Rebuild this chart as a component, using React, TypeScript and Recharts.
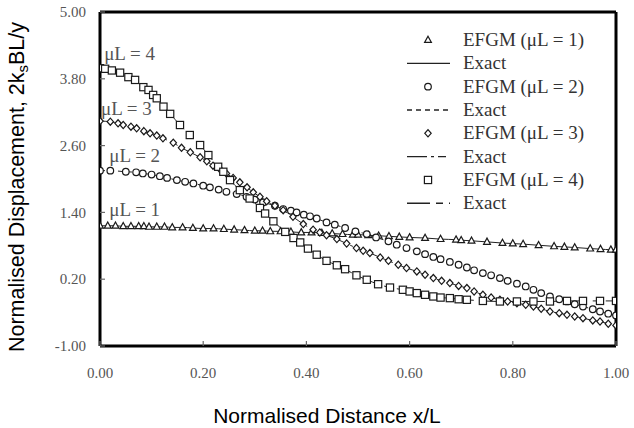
import React from 'react';
import { ComposedChart, Line, XAxis, YAxis, ReferenceDot, ReferenceLine, Legend } from 'recharts';

const xTicks = [0, 0.2, 0.4, 0.6, 0.8, 1.0];
const yTicks = [-1, 0.2, 1.4, 2.6, 3.8, 5.0];

const mu1X = [0, 0.015, 0.03, 0.045, 0.06, 0.075, 0.085, 0.095, 0.11, 0.125, 0.14, 0.16, 0.18, 0.2, 0.22, 0.24, 0.26, 0.28, 0.3, 0.315, 0.33, 0.35, 0.37, 0.39, 0.41, 0.43, 0.45, 0.47, 0.49, 0.5, 0.52, 0.54, 0.56, 0.58, 0.6, 0.63, 0.66, 0.69, 0.7, 0.72, 0.75, 0.78, 0.8, 0.82, 0.85, 0.88, 0.9, 0.92, 0.95, 0.97, 0.99, 1.0];
const mu1Y = [1.16, 1.16, 1.16, 1.15, 1.15, 1.15, 1.15, 1.14, 1.14, 1.14, 1.13, 1.13, 1.12, 1.11, 1.11, 1.1, 1.09, 1.08, 1.07, 1.07, 1.06, 1.06, 1.05, 1.04, 1.04, 1.03, 1.02, 1.01, 1.0, 1.0, 0.99, 0.98, 0.97, 0.96, 0.95, 0.94, 0.92, 0.91, 0.9, 0.89, 0.87, 0.85, 0.84, 0.83, 0.81, 0.79, 0.78, 0.77, 0.75, 0.74, 0.73, 0.73];

const mu2X = [0, 0.02, 0.05, 0.07, 0.083, 0.1, 0.116, 0.13, 0.149, 0.165, 0.181, 0.2, 0.213, 0.23, 0.245, 0.265, 0.284, 0.3, 0.316, 0.339, 0.355, 0.37, 0.381, 0.395, 0.407, 0.42, 0.439, 0.455, 0.475, 0.495, 0.517, 0.535, 0.559, 0.575, 0.594, 0.614, 0.63, 0.646, 0.66, 0.678, 0.695, 0.711, 0.725, 0.742, 0.758, 0.775, 0.79, 0.808, 0.825, 0.84, 0.855, 0.872, 0.89, 0.905, 0.92, 0.936, 0.955, 0.969, 0.985, 1.0];
const mu2Y = [2.15, 2.15, 2.13, 2.12, 2.1, 2.08, 2.05, 2.02, 1.98, 1.95, 1.92, 1.88, 1.85, 1.81, 1.77, 1.73, 1.68, 1.63, 1.58, 1.52, 1.46, 1.43, 1.4, 1.36, 1.33, 1.29, 1.22, 1.18, 1.12, 1.06, 1.01, 0.95, 0.88, 0.82, 0.76, 0.7, 0.65, 0.6, 0.56, 0.51, 0.46, 0.41, 0.36, 0.31, 0.27, 0.22, 0.17, 0.12, 0.07, 0.01, -0.05, -0.11, -0.16, -0.2, -0.25, -0.29, -0.34, -0.38, -0.42, -0.45];

const mu3X = [0, 0.02, 0.035, 0.045, 0.06, 0.071, 0.085, 0.097, 0.11, 0.122, 0.142, 0.158, 0.175, 0.194, 0.207, 0.219, 0.233, 0.245, 0.258, 0.271, 0.285, 0.297, 0.31, 0.323, 0.339, 0.355, 0.374, 0.394, 0.413, 0.426, 0.439, 0.459, 0.478, 0.497, 0.51, 0.523, 0.543, 0.559, 0.578, 0.594, 0.614, 0.63, 0.646, 0.662, 0.678, 0.695, 0.711, 0.725, 0.742, 0.758, 0.775, 0.79, 0.808, 0.825, 0.84, 0.855, 0.872, 0.89, 0.905, 0.92, 0.936, 0.955, 0.969, 0.985, 1.0];
const mu3Y = [3.04, 3.03, 3.0, 2.97, 2.94, 2.91, 2.86, 2.82, 2.78, 2.73, 2.65, 2.56, 2.48, 2.39, 2.32, 2.24, 2.17, 2.1, 2.02, 1.94, 1.85, 1.76, 1.68, 1.6, 1.52, 1.44, 1.32, 1.19, 1.09, 1.04, 0.99, 0.92, 0.84, 0.76, 0.71, 0.67, 0.59, 0.53, 0.46, 0.4, 0.34, 0.28, 0.22, 0.17, 0.13, 0.08, 0.04, -0.02, -0.08, -0.13, -0.17, -0.2, -0.23, -0.26, -0.29, -0.33, -0.38, -0.41, -0.44, -0.47, -0.5, -0.54, -0.56, -0.6, -0.63];

const mu4X = [0, 0.01, 0.023, 0.039, 0.055, 0.068, 0.084, 0.094, 0.103, 0.11, 0.123, 0.136, 0.155, 0.174, 0.194, 0.21, 0.229, 0.239, 0.252, 0.271, 0.29, 0.31, 0.32, 0.336, 0.359, 0.375, 0.388, 0.403, 0.42, 0.439, 0.459, 0.475, 0.497, 0.517, 0.539, 0.562, 0.587, 0.6, 0.614, 0.63, 0.646, 0.66, 0.678, 0.695, 0.711, 0.742, 0.775, 0.808, 0.84, 0.872, 0.905, 0.936, 0.969, 1.0];
const mu4Y = [3.99, 3.98, 3.95, 3.91, 3.83, 3.78, 3.65, 3.6, 3.51, 3.45, 3.3, 3.17, 2.97, 2.79, 2.61, 2.43, 2.22, 2.13, 1.98, 1.8, 1.65, 1.48, 1.38, 1.24, 1.05, 0.94, 0.86, 0.75, 0.64, 0.53, 0.45, 0.38, 0.27, 0.19, 0.11, 0.05, 0.01, -0.02, -0.05, -0.08, -0.11, -0.13, -0.14, -0.16, -0.17, -0.19, -0.2, -0.2, -0.2, -0.2, -0.19, -0.19, -0.19, -0.19];

const seriesNames = ['EFGM (μL = 1)', 'EFGM (μL = 2)', 'EFGM (μL = 3)', 'EFGM (μL = 4)'];
const exactName = 'Exact';

const annotLabels = ['μL = 4', 'μL = 3', 'μL = 2', 'μL = 1'];
const annotX = [0.008, 0.002, 0.018, 0.018];
const annotY = [4.26, 3.27, 2.43, 1.45];

type Shape = 'triangle' | 'circle' | 'diamond' | 'square';

const series = [
  { name: seriesNames[0], xs: mu1X, ys: mu1Y, shape: 'triangle' as Shape, dash: undefined as string | undefined },
  { name: seriesNames[1], xs: mu2X, ys: mu2Y, shape: 'circle' as Shape, dash: '5 4' },
  { name: seriesNames[2], xs: mu3X, ys: mu3Y, shape: 'diamond' as Shape, dash: '20 4 3 4 8 4' },
  { name: seriesNames[3], xs: mu4X, ys: mu4Y, shape: 'square' as Shape, dash: '23 6 7 6' },
];

const MARK_STROKE = '#1a1a1a';
const FRAME = 'black';
const SERIF = "'Liberation Serif', 'Times New Roman', serif";
const TICK_LEN = 5;
const Y_TICK_MARGIN = 14;
const X_TICK_MARGIN = 19;

function markerEl(shape: Shape, cx: number, cy: number, key?: any) {
  const common = { stroke: MARK_STROKE, strokeWidth: 1.2, fill: '#fff' };
  switch (shape) {
    case 'triangle':
      return <path key={key} d={`M${cx},${cy - 3.8}L${cx + 3.4},${cy + 2.4}L${cx - 3.4},${cy + 2.4}Z`} {...common} />;
    case 'circle':
      return <circle key={key} cx={cx} cy={cy} r={3.3} {...common} />;
    case 'diamond':
      return <path key={key} d={`M${cx},${cy - 3.6}L${cx + 3.2},${cy}L${cx},${cy + 3.6}L${cx - 3.2},${cy}Z`} {...common} />;
    default:
      return <rect key={key} x={cx - 3.6} y={cy - 3.6} width={7.2} height={7.2} {...common} />;
  }
}

const makeDot = (shape: Shape) => (props: any) => {
  const { cx, cy, index } = props;
  if (cx == null || cy == null) return <g key={`n${index}`} />;
  return markerEl(shape, cx, cy, `${shape}-${index}`);
};

const YTick = (props: any) => {
  const { x, y, payload } = props;
  const ax = x + Y_TICK_MARGIN;
  return (
    <g>
      <path d={`M${ax},${y}h${TICK_LEN}`} stroke="dimgray" strokeWidth={1.2} fill="none" />
      <text x={x} y={y} dy="0.35em" textAnchor="end" fill="#555" fontSize={15} fontFamily={SERIF}>
        {Number(payload.value).toFixed(2)}
      </text>
    </g>
  );
};

const XTick = (props: any) => {
  const { x, y, payload } = props;
  const ay = y - X_TICK_MARGIN;
  return (
    <g>
      <path d={`M${x},${ay}v${-TICK_LEN}`} stroke="dimgray" strokeWidth={1.2} fill="none" />
      <text x={x} y={y} dy="0.85em" textAnchor="middle" fill="#555" fontSize={15} fontFamily={SERIF}>
        {Number(payload.value).toFixed(2)}
      </text>
    </g>
  );
};

const renderLegend = () => {
  const rows: any[] = [];
  series.forEach((s) => {
    rows.push({ kind: 'marker', shape: s.shape, label: s.name });
    rows.push({ kind: 'line', dash: s.dash, label: exactName });
  });
  return (
    <svg width={230} height={195}>
      {rows.map((r, i) => {
        const cy = 12 + i * 23.33;
        return (
          <g key={i}>
            {r.kind === 'marker'
              ? markerEl(r.shape, 28, cy)
              : <line x1={7} x2={50} y1={cy} y2={cy} stroke="#222" strokeWidth={1.4} strokeDasharray={r.dash} />}
            <text x={63} y={cy + 6} fontFamily={SERIF} fontSize={19} fill="#333">{r.label}</text>
          </g>
        );
      })}
    </svg>
  );
};

const XTitle = (props: any) => {
  const vb = props.viewBox || { x: 100, width: 516 };
  return (
    <text x={vb.x + vb.width / 2 - 31} y={423} textAnchor="middle" fontFamily="'Liberation Sans', Arial, sans-serif" fontSize={21} fill="#000">
      Normalised Distance x/L
    </text>
  );
};

const YTitle = () => (
  <text x={24} y={187} transform="rotate(-90, 24, 187)" textAnchor="middle" fontFamily="'Liberation Sans', Arial, sans-serif" fontSize={21.5} fill="#000">
    Normalised Displacement, 2k<tspan fontSize={15} dy={4}>s</tspan><tspan dy={-4}>BL/y</tspan>
  </text>
);

export default function App() {
  return (
    <div style={{ position: 'absolute', left: 0, top: 0, background: '#fff' }}>
      <ComposedChart width={634} height={428} margin={{ top: 12, right: 18, bottom: 0, left: 0 }}>
        <XAxis
          dataKey="x"
          type="number"
          domain={[0, 1]}
          ticks={xTicks}
          interval={0}
          height={82}
          allowDataOverflow
          axisLine={false}
          tickLine={false}
          tickSize={0}
          tickMargin={X_TICK_MARGIN}
          tick={<XTick />}
          label={<XTitle />}
        />
        <YAxis
          type="number"
          domain={[-1, 5]}
          ticks={yTicks}
          interval={0}
          width={100}
          allowDataOverflow
          axisLine={false}
          tickLine={false}
          tickSize={0}
          tickMargin={Y_TICK_MARGIN}
          tick={<YTick />}
          label={<YTitle />}
        />
        <ReferenceLine y={5} stroke={FRAME} strokeWidth={3} ifOverflow="visible" />
        <ReferenceLine y={-1} stroke={FRAME} strokeWidth={3} ifOverflow="visible" />
        <ReferenceLine x={0} stroke={FRAME} strokeWidth={3} ifOverflow="visible" />
        <ReferenceLine x={1} stroke={FRAME} strokeWidth={3} ifOverflow="visible" />
        {series.map((s) => (
          <Line
            key={s.name}
            data={s.xs.map((x, i) => ({ x, y: s.ys[i] }))}
            dataKey="y"
            name={s.name}
            type="monotone"
            stroke="#222"
            strokeWidth={1}
            strokeDasharray={s.dash}
            dot={makeDot(s.shape)}
            activeDot={false}
            legendType="none"
            isAnimationActive={false}
          />
        ))}
        {annotLabels.map((t, i) => (
          <ReferenceDot
            key={t}
            x={annotX[i]}
            y={annotY[i]}
            r={0.01}
            fill="none"
            stroke="none"
            label={{ value: t, position: 'right', offset: 0, fill: '#555', fontSize: 19, fontFamily: SERIF }}
          />
        ))}
        <Legend
          layout="vertical"
          align="center"
          verticalAlign="middle"
          content={renderLegend}
          wrapperStyle={{ left: 400, top: 28, width: 230, height: 195 }}
        />
      </ComposedChart>
    </div>
  );
}
